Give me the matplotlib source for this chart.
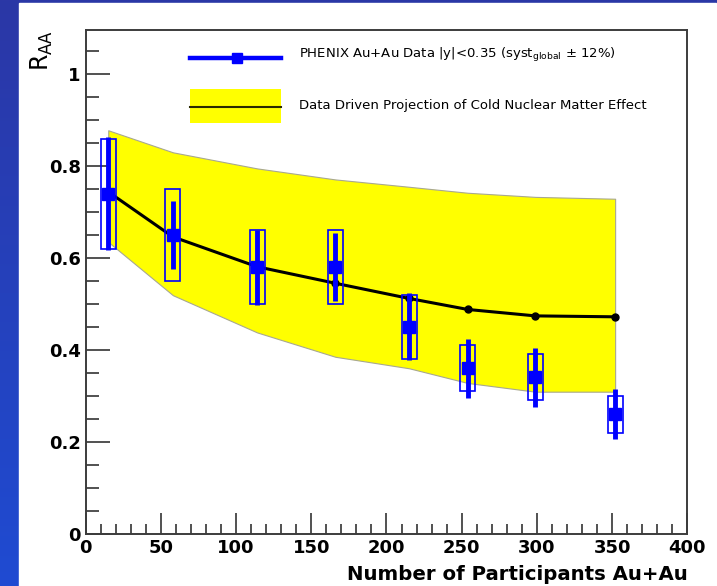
import matplotlib.pyplot as plt
import numpy as np
from matplotlib.patches import Rectangle
from matplotlib.colors import LinearSegmentedColormap
from matplotlib.ticker import MultipleLocator, FuncFormatter

# data
npart = [15, 58, 114, 166, 215, 254, 299, 352]
raa = [0.74, 0.65, 0.58, 0.58, 0.45, 0.36, 0.34, 0.26]
stat_err = [0.123, 0.073, 0.082, 0.074, 0.073, 0.064, 0.064, 0.054]
syst_err = [0.12, 0.10, 0.08, 0.08, 0.07, 0.05, 0.05, 0.04]

cnm = [0.744, 0.646, 0.581, 0.545, 0.512, 0.488, 0.474, 0.472]
cnm_hi = [0.878, 0.830, 0.795, 0.771, 0.755, 0.742, 0.733, 0.729]
cnm_lo = [0.635, 0.519, 0.438, 0.385, 0.360, 0.328, 0.309, 0.309]

box_halfwidth = 5

plt.rcParams['font.family'] = ['DejaVu Sans']
plt.rcParams['mathtext.fontset'] = 'dejavusans'

fig = plt.figure(figsize=(7.17, 5.86), dpi=100)

# slide background: blue gradient + white panel
bg = fig.add_axes([0, 0, 1, 1], zorder=-10)
grad = np.linspace(0, 1, 256).reshape(-1, 1)
cmap = LinearSegmentedColormap.from_list('slide', ['#2b37a6', '#1f4bd2'])
bg.imshow(grad, aspect='auto', cmap=cmap, extent=[0, 1, 0, 1], origin='upper')
bg.add_patch(Rectangle((19 / 717, 0), 697 / 717, 1 - 3 / 586, color='white'))
bg.set_xlim(0, 1)
bg.set_ylim(0, 1)
bg.axis('off')

ax = fig.add_axes([0.1195, 0.0893, 0.8391, 0.8601])

# cold nuclear matter band and line
ax.fill_between(npart, cnm_lo, cnm_hi, facecolor='#ffff00', edgecolor='#a8a890', linewidth=0.8, zorder=1)
ax.plot(npart, cnm, color='black', linewidth=2.2, marker='o', markersize=5, zorder=2)

# systematic boxes
for x, y, s in zip(npart, raa, syst_err):
    ax.add_patch(Rectangle((x - box_halfwidth, y - s), 2 * box_halfwidth, 2 * s,
                           fill=False, edgecolor='#0000ff', linewidth=1.2, zorder=3))

# data points with stat errors
ax.errorbar(npart, raa, yerr=stat_err, fmt='s', color='#0000ff', markersize=8,
            elinewidth=3.5, capsize=0, zorder=4)

ax.set_xlim(0, 400)
ax.set_ylim(0, 1.097)
ax.xaxis.set_major_locator(MultipleLocator(50))
ax.xaxis.set_minor_locator(MultipleLocator(10))
ax.yaxis.set_major_locator(MultipleLocator(0.2))
ax.yaxis.set_minor_locator(MultipleLocator(0.05))
ax.yaxis.set_major_formatter(FuncFormatter(lambda v, p: '%g' % round(v, 2)))

ax.tick_params(axis='both', which='both', direction='in', top=False, right=False,
               labelsize=13, colors='#333333', labelcolor='black')
ax.tick_params(axis='x', which='major', length=15, width=1.2)
ax.tick_params(axis='x', which='minor', length=7.5, width=1.2)
ax.tick_params(axis='y', which='major', length=17.5, width=1.2)
ax.tick_params(axis='y', which='minor', length=9, width=1.2)
for lbl in ax.get_xticklabels() + ax.get_yticklabels():
    lbl.set_fontweight('bold')
for sp in ax.spines.values():
    sp.set_color('#3c3c3c')
    sp.set_linewidth(1.4)

ax.set_xlabel('Number of Participants Au+Au', fontsize=14.2, fontweight='bold',
              loc='right', labelpad=6)
ax.text(-0.073, 1.0, r'R$_{\mathregular{AA}}$', transform=ax.transAxes, fontsize=17,
        rotation=90, ha='center', va='top')

# legend drawn by hand in axes coordinates
ax.plot([0.1734, 0.3246], [0.943, 0.943], transform=ax.transAxes, color='#0000ff',
        linewidth=3.2, zorder=5)
ax.plot([0.251], [0.943], transform=ax.transAxes, marker='s', color='#0000ff',
        markersize=7.5, zorder=5)
ax.text(0.3546, 0.950, r'PHENIX Au+Au Data |y|<0.35 (syst$_{\mathregular{global}}$ $\pm$ 12%)',
        transform=ax.transAxes, fontsize=9.5, va='center', ha='left')
ax.add_patch(Rectangle((0.1734, 0.8155), 0.1512, 0.0662, transform=ax.transAxes,
                       facecolor='#ffff00', edgecolor='none', zorder=5))
ax.plot([0.1734, 0.3246], [0.8472, 0.8472], transform=ax.transAxes, color='#2a2a00',
        linewidth=1.5, zorder=6)
ax.text(0.3546, 0.8486, 'Data Driven Projection of Cold Nuclear Matter Effect',
        transform=ax.transAxes, fontsize=9.5, va='center', ha='left')

fig.savefig('out.png', dpi=100)
